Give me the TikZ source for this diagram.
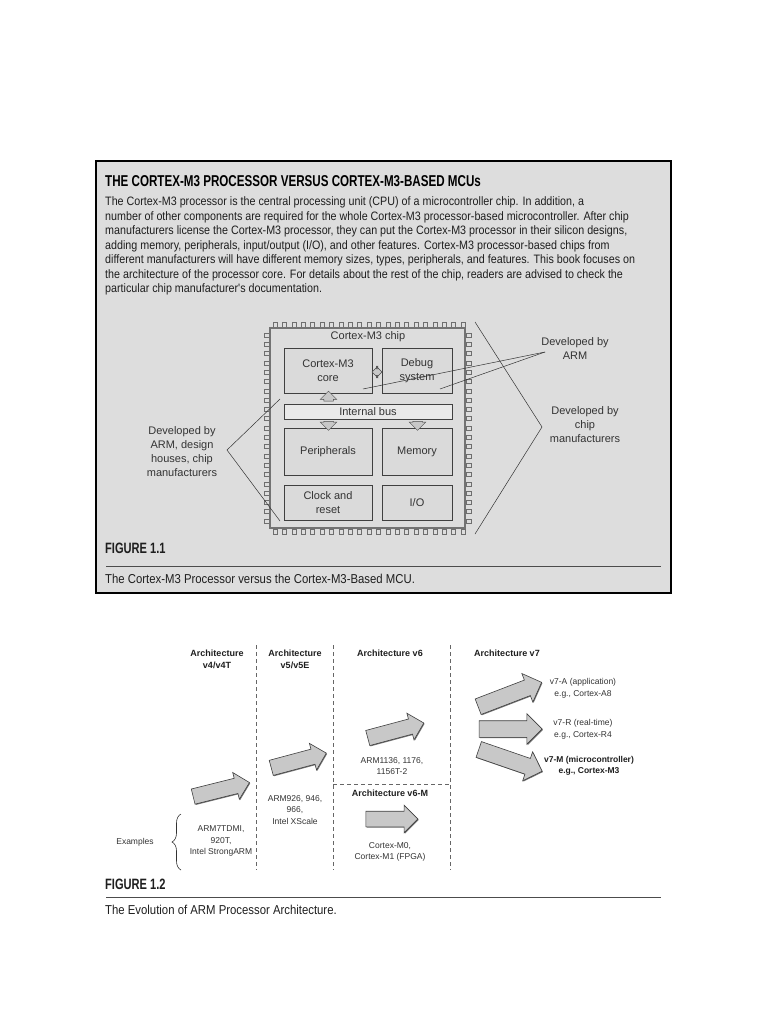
\documentclass[tikz,border=0pt]{standalone}
\usepackage{fontspec}
\setmainfont{Liberation Sans}
\newfontfamily\bodyfont[FakeStretch=0.88]{Liberation Sans}
\newfontfamily\headfont[FakeStretch=0.74]{Liberation Sans}
\usepackage{tikz}
\usetikzlibrary{shapes.arrows,decorations.pathreplacing,shadows}
\definecolor{panelgrey}{HTML}{DDDDDD}
\definecolor{blockgrey}{HTML}{DADADA}
\definecolor{arrowgrey}{HTML}{C8C8C8}
\definecolor{inkdark}{HTML}{1E1E1E}
\definecolor{inkgrey}{HTML}{333333}
\definecolor{pingrey}{HTML}{6E6E6E}

\begin{document}
\begin{tikzpicture}[x=1pt,y=-1pt,
  blk/.style 2 args={draw=black!75, line width=0.6pt, fill=blockgrey, minimum width=#1, minimum height=#2, inner sep=0pt, align=center, font=\fontsize{11}{14}\selectfont\color{inkgrey}, drop shadow={shadow xshift=1.2pt, shadow yshift=-1.2pt, fill=black!70, opacity=1}},
  pin/.style={draw=pingrey, line width=0.5pt},
  lbl/.style={align=center, font=\fontsize{11}{14}\selectfont\color{inkgrey}},
  lead/.style={black!80, line width=0.5pt},
  busarrow/.style={single arrow, draw=black!70, fill=arrowgrey, inner xsep=0pt, inner ysep=4.5pt, single arrow head extend=3.5pt, line width=0.5pt},
  bigarrow/.style={single arrow, draw=black!75, fill=arrowgrey, inner xsep=0pt, inner ysep=7.5pt, single arrow head extend=6pt, line width=0.6pt, drop shadow={shadow xshift=0.8pt, shadow yshift=-0.8pt, fill=black!55, opacity=1}},
  arch/.style={align=center, font=\fontsize{9}{12}\selectfont\bfseries\color{inkdark}},
  ex/.style={align=center, font=\fontsize{8.5}{11.5}\selectfont\color{inkgrey}},
  divider/.style={black!60, dashed, dash pattern=on 4pt off 3pt, line width=0.5pt},
  capline/.style={black!70, line width=0.8pt}
]
\useasboundingbox (0,0) rectangle (768,1024);
% panel
\draw[fill=panelgrey, line width=2.5pt] (96,161) rectangle (671,593);
\node[anchor=west, inner sep=0pt, font=\headfont\bfseries\fontsize{15.7}{18}\selectfont] (title) at (105,181) {THE CORTEX-M3 PROCESSOR VERSUS CORTEX-M3-BASED MCUs};
\node[anchor=north west, inner sep=0pt, align=left, font=\bodyfont\fontsize{12.2}{14.5}\selectfont\color{inkdark}] (intro) at (105,196.5) {The Cortex-M3 processor is the central processing unit (CPU) of a microcontroller chip. In addition, a\\
number of other components are required for the whole Cortex-M3 processor-based microcontroller. After chip\\
manufacturers license the Cortex-M3 processor, they can put the Cortex-M3 processor in their silicon designs,\\
adding memory, peripherals, input/output (I/O), and other features. Cortex-M3 processor-based chips from\\
different manufacturers will have different memory sizes, types, peripherals, and features. This book focuses on\\
the architecture of the processor core. For details about the rest of the chip, readers are advised to check the\\
particular chip manufacturer's documentation.};

% chip
\foreach \i in {0,...,20} {
  \draw[pin] (273+\i*9.4,322) rectangle ++(4,5);
  \draw[pin] (273+\i*9.4,529) rectangle ++(4,5);
  \draw[pin] (264,333+\i*9.3) rectangle ++(5,4);
  \draw[pin] (466,333+\i*9.3) rectangle ++(5,4);
}
\node[draw=black!55, line width=1.3pt, minimum width=195pt, minimum height=200pt, inner sep=0pt] (chip) at (367.5,428) {};
\node[lbl] (chiplbl) at (368,337) {Cortex-M3 chip};
\node[blk={88pt}{45pt}] (core) at (328,370.5) {Cortex-M3\\core};
\node[blk={70pt}{45pt}] (debug) at (417,370.5) {Debug\\system};
\node[blk={168pt}{15pt}, fill=blockgrey!60] (bus) at (368,411.5) {Internal bus};
\node[blk={88pt}{47pt}] (periph) at (328,451.5) {Peripherals};
\node[blk={70pt}{47pt}] (mem) at (417,451.5) {Memory};
\node[blk={88pt}{35pt}] (clock) at (328,502.5) {Clock and\\reset};
\node[blk={70pt}{35pt}] (io) at (417,502.5) {I/O};
\node[busarrow, rotate=90, minimum height=10pt] (upbus) at (328.5,398.5) {};
\node[busarrow, rotate=-90, minimum height=9pt] (toperiph) at (328.5,423.5) {};
\node[busarrow, rotate=-90, minimum height=9pt] (tomem) at (417.5,423.5) {};
\node[double arrow, draw=black!70, fill=arrowgrey, inner xsep=0pt, inner ysep=3pt, minimum height=10pt, double arrow head extend=2.5pt, line width=0.5pt] (coredbg) at (377,372) {};

% labels round the chip
\node[lbl] (byarm) at (575,349) {Developed by\\ARM};
\coordinate (armfoot) at (545,352);
\coordinate (armcore) at (363,389);
\coordinate (armdbg) at (440,389);
\draw[lead] (armfoot) -- (armcore);
\draw[lead] (armfoot) -- (armdbg);
\node[lbl] (bymfr) at (585,425) {Developed by\\chip\\manufacturers};
\coordinate (rtop) at (475,322);
\coordinate (rmid) at (542,427);
\coordinate (rbot) at (475,534);
\draw[lead] (rtop) -- (rmid) -- (rbot);
\node[lbl] (byall) at (182,452) {Developed by\\ARM, design\\houses, chip\\manufacturers};
\coordinate (ltop) at (280,399);
\coordinate (lmid) at (227,450);
\coordinate (lbot) at (280,521);
\draw[lead] (ltop) -- (lmid) -- (lbot);

% caption 1.1
\node[anchor=west, inner sep=0pt, font=\headfont\bfseries\fontsize{15}{17}\selectfont\color{inkdark}] (fig1) at (105,548) {FIGURE 1.1};
\draw[capline] (106,566) -- (661,566);
\node[anchor=west, inner sep=0pt, font=\bodyfont\fontsize{12.9}{14}\selectfont\color{inkdark}] (cap1) at (105,579) {The Cortex-M3 Processor versus the Cortex-M3-Based MCU.};

% evolution
\draw[divider] (256,645) -- (256,870);
\draw[divider] (333,645) -- (333,870);
\draw[divider] (450,645) -- (450,870);
\draw[divider] (333,784) -- (450,784);
\node[arch] (h4) at (217,659) {Architecture\\v4/v4T};
\node[arch] (h5) at (295,659) {Architecture\\v5/v5E};
\node[arch] (h6) at (390,653) {Architecture v6};
\node[arch] (h7) at (507,653) {Architecture v7};
\node[arch] (h6m) at (390,793) {Architecture v6-M};

\node[bigarrow, minimum height=58pt, rotate=14] (a4) at (217.5,790.5) {};
\node[bigarrow, minimum height=57pt, rotate=15] (a5) at (295,761.5) {};
\node[bigarrow, minimum height=58pt, rotate=15] (a6) at (392,731.5) {};
\node[bigarrow, minimum height=52pt] (a6m) at (388,819) {};
\node[bigarrow, minimum height=68pt, inner ysep=8pt, single arrow head extend=7pt, rotate=21] (a7a) at (506,696) {};
\node[bigarrow, minimum height=63pt, inner ysep=8pt, single arrow head extend=7pt] (a7r) at (506.5,729) {};
\node[bigarrow, minimum height=67pt, inner ysep=8pt, single arrow head extend=7pt, rotate=-19] (a7m) at (506.5,759) {};

\node[ex] (ex4) at (221,841) {ARM7TDMI,\\920T,\\Intel StrongARM};
\node[ex] (ex5) at (295,810) {ARM926, 946,\\966,\\Intel XScale};
\node[ex] (ex6) at (392,766) {ARM1136, 1176,\\1156T-2};
\node[ex] (ex6m) at (390,852) {Cortex-M0,\\Cortex-M1 (FPGA)};
\node[ex] (v7a) at (583,688.5) {v7-A (application)\\e.g., Cortex-A8};
\node[ex] (v7r) at (583,729.5) {v7-R (real-time)\\e.g., Cortex-R4};
\node[ex, font=\fontsize{8.5}{11.5}\selectfont\bfseries\color{inkdark}] (v7m) at (589,766) {v7-M (microcontroller)\\e.g., Cortex-M3};
\node[ex] (examples) at (135,842) {Examples};
\coordinate (brbot) at (181,870);
\coordinate (brtop) at (181,814);
\draw[inkgrey, line width=0.6pt, decorate, decoration={brace, amplitude=9pt}] (brbot) -- (brtop);

% caption 1.2
\node[anchor=west, inner sep=0pt, font=\headfont\bfseries\fontsize{15}{17}\selectfont\color{inkdark}] (fig2) at (105,884) {FIGURE 1.2};
\draw[capline] (106,897) -- (661,897);
\node[anchor=west, inner sep=0pt, font=\bodyfont\fontsize{12.9}{14}\selectfont\color{inkdark}] (cap2) at (105,910) {The Evolution of ARM Processor Architecture.};
\end{tikzpicture}
\end{document}
